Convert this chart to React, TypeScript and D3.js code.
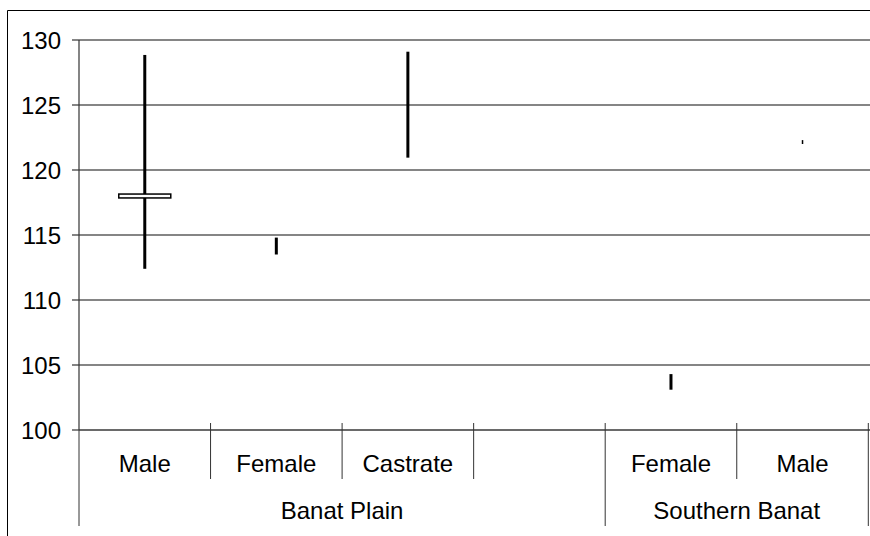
import React from "react";
import * as d3 from "d3";

// Category axis: inner level (sex) and outer level (region)
const categories = ["Male", "Female", "Castrate", "", "Female", "Male"];
const groupNames = ["Banat Plain", "Southern Banat"];
const groupSizes = [4, 2];

// High / low range per category (null = no data)
const highs: (number | null)[] = [128.85, 114.8, 129.1, null, 104.3, 122.3];
const lows: (number | null)[] = [112.4, 113.5, 120.95, null, 103.1, 122.0];
// Open / close box (only shown where present)
const opens: (number | null)[] = [118.15, null, null, null, null, null];
const closes: (number | null)[] = [117.85, null, null, null, null, null];

const yTicks = [100, 105, 110, 115, 120, 125, 130];

const W = 870;
const H = 536;
const plotLeft = 79;
const plotRight = 868.3;
const plotTop = 40;
const plotBottom = 430;
const FONT = "'Liberation Sans', Arial, sans-serif";

export default function App() {
  const y = d3.scaleLinear().domain([100, 130]).range([plotBottom, plotTop]);
  const x = d3
    .scaleBand<number>()
    .domain(categories.map((_, i) => i))
    .range([plotLeft, plotRight])
    .padding(0);
  const bw = x.bandwidth();
  const cx = (i: number) => (x(i) as number) + bw / 2;

  // boundaries between outer groups
  const groupBounds: number[] = [0];
  groupSizes.forEach((s, i) => groupBounds.push(groupBounds[i] + s));
  const boundaryX = (k: number) => plotLeft + k * bw;

  return (
    <svg
      width={W}
      height={H}
      style={{ position: "absolute", left: 0, top: 0, background: "#fff" }}
    >
      {/* chart frame */}
      <line x1={7.5} y1={10.5} x2={W} y2={10.5} stroke="#000" strokeWidth={1} />
      <line x1={7.5} y1={10.5} x2={7.5} y2={H} stroke="#000" strokeWidth={1} />

      {/* horizontal gridlines */}
      {yTicks.map((t) => (
        <line
          key={"g" + t}
          x1={plotLeft}
          x2={W}
          y1={y(t)}
          y2={y(t)}
          stroke={t === 100 ? "#6a6a6a" : "#858585"}
          strokeWidth={2}
        />
      ))}

      {/* value axis */}
      <line x1={plotLeft} x2={plotLeft} y1={plotTop} y2={plotBottom} stroke="#333" strokeWidth={1.2} />
      {yTicks.map((t) => (
        <g key={"t" + t}>
          <line x1={plotLeft - 7} x2={plotLeft} y1={y(t)} y2={y(t)} stroke="#333" strokeWidth={1.2} />
          <text
            x={61}
            y={y(t) + 8.5}
            textAnchor="end"
            fontFamily={FONT}
            fontSize={24}
            fill="#000"
          >
            {t}
          </text>
        </g>
      ))}

      {/* category axis: inner separators */}
      {d3.range(1, categories.length).map((k) =>
        groupBounds.includes(k) ? null : (
          <line
            key={"c" + k}
            x1={boundaryX(k)}
            x2={boundaryX(k)}
            y1={plotBottom - 7}
            y2={479}
            stroke="#333"
            strokeWidth={1}
          />
        )
      )}
      {/* outer group separators */}
      {groupBounds.map((k) => (
        <line
          key={"b" + k}
          x1={boundaryX(k)}
          x2={boundaryX(k)}
          y1={k === 0 ? plotBottom : plotBottom - 7}
          y2={526}
          stroke="#333"
          strokeWidth={1}
        />
      ))}

      {categories.map((c, i) => (
        <text
          key={"l" + i}
          x={cx(i)}
          y={472}
          textAnchor="middle"
          fontFamily={FONT}
          fontSize={24}
          fill="#000"
        >
          {c}
        </text>
      ))}
      {groupNames.map((g, i) => (
        <text
          key={"gl" + i}
          x={(boundaryX(groupBounds[i]) + boundaryX(groupBounds[i + 1])) / 2}
          y={519}
          textAnchor="middle"
          fontFamily={FONT}
          fontSize={24}
          fill="#000"
        >
          {g}
        </text>
      ))}

      {/* high-low lines */}
      {highs.map((h, i) => {
        const l = lows[i];
        if (h == null || l == null) return null;
        return (
          <line
            key={"hl" + i}
            x1={cx(i)}
            x2={cx(i)}
            y1={y(h)}
            y2={y(l)}
            stroke="#000"
            strokeWidth={h - l < 0.5 ? 1.5 : 3}
          />
        );
      })}

      {/* open-close boxes */}
      {opens.map((o, i) => {
        const c = closes[i];
        if (o == null || c == null) return null;
        const top = y(Math.max(o, c));
        const bot = y(Math.min(o, c));
        return (
          <rect
            key={"oc" + i}
            x={cx(i) - 26}
            y={top}
            width={52}
            height={bot - top}
            fill="#fff"
            stroke="#000"
            strokeWidth={1.5}
          />
        );
      })}
    </svg>
  );
}
